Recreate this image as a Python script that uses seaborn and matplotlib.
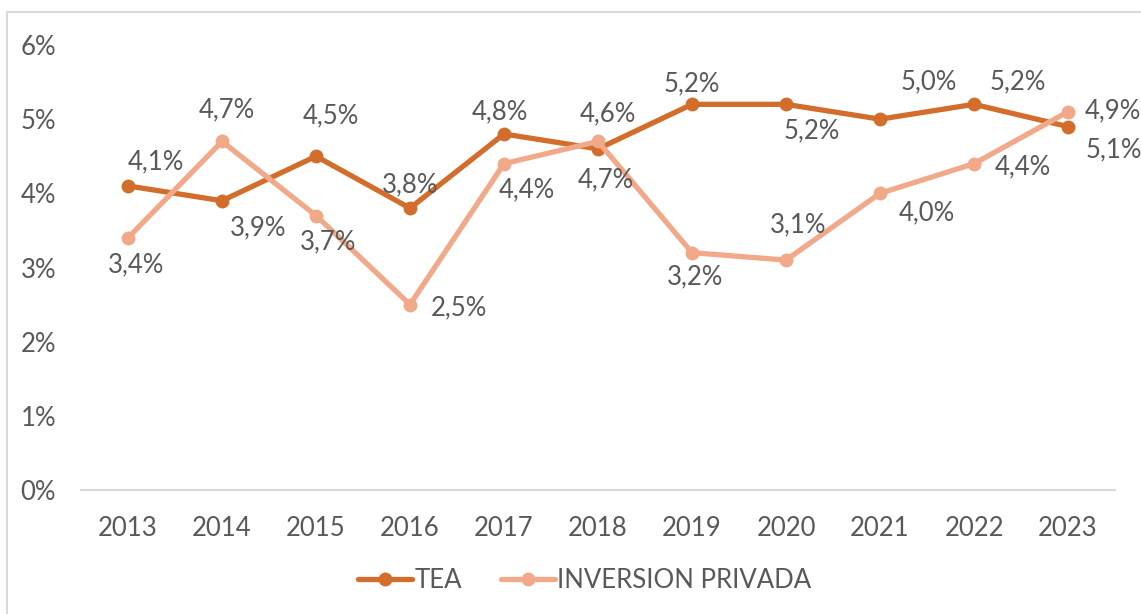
import numpy as np
import pandas as pd
import seaborn as sns
import matplotlib.pyplot as plt
from matplotlib.lines import Line2D

sns.set_theme(style='white')
plt.rcParams['font.family'] = ['Lato', 'DejaVu Sans']

years = [2013, 2014, 2015, 2016, 2017, 2018, 2019, 2020, 2021, 2022, 2023]
tea = [4.1, 3.9, 4.5, 3.8, 4.8, 4.6, 5.2, 5.2, 5.0, 5.2, 4.9]
inversion = [3.4, 4.7, 3.7, 2.5, 4.4, 4.7, 3.2, 3.1, 4.0, 4.4, 5.1]
series_names = ['TEA', 'INVERSION PRIVADA']
y_ticks = [0, 1, 2, 3, 4, 5, 6]

# label offsets in pixels, as placed in the original chart
tea_offsets = [(28, 24), (36, -27), (15, 40), (0, 23), (-4, 22), (10, 35),
               (0, 21), (26, -26), (49, 37), (44, 23), (45, 16)]
inv_offsets = [(8, -27), (5, 32), (12, -26), (49, -3), (23, -26), (8, -38),
               (3, -24), (12, 35), (47, -19), (49, -3), (46, -38)]

colors = {'TEA': '#D36D2B', 'INVERSION PRIVADA': '#F1A98A'}
text_color = '#595959'
fs = 18.5

df = pd.DataFrame({'year': years * 2,
                   'value': tea + inversion,
                   'serie': [series_names[0]] * len(years) + [series_names[1]] * len(years)})

fig = plt.figure(figsize=(11.41, 6.14), dpi=100)
ax = fig.add_axes([81 / 1141, 124 / 614, 1034 / 1141, 445 / 614])

sns.lineplot(data=df, x='year', y='value', hue='serie', palette=colors,
             hue_order=series_names, marker='o', markersize=10, markeredgewidth=0,
             linewidth=3.8, ax=ax, legend=False)

ax.set_xlim(years[0] - 0.5, years[-1] + 0.5)
ax.set_ylim(0, 6)
ax.set_xticks(years)
ax.set_xticklabels([str(y) for y in years])
ax.set_yticks(y_ticks)
ax.set_yticklabels(['{}%'.format(t) for t in y_ticks])
ax.tick_params(axis='x', length=0, pad=19, labelsize=fs, labelcolor=text_color)
ax.tick_params(axis='y', length=0, pad=18, labelsize=fs, labelcolor=text_color)
ax.set_xlabel('')
ax.set_ylabel('')
for side in ['top', 'right', 'left']:
    ax.spines[side].set_visible(False)
ax.spines['bottom'].set_color('#D9D9D9')
ax.spines['bottom'].set_linewidth(1.5)
ax.set_facecolor('none')

def fmt(v):
    return '{:.1f}%'.format(v).replace('.', ',')

for vals, offs in [(tea, tea_offsets), (inversion, inv_offsets)]:
    for yr, v, (dx, dy) in zip(years, vals, offs):
        ax.annotate(fmt(v), (yr, v), xytext=(dx, dy), textcoords='offset pixels',
                    ha='center', va='center', fontsize=fs, color=text_color)

handles = [Line2D([], [], color=colors[n], linewidth=3.8, marker='o', markersize=10,
                  markeredgewidth=0, solid_capstyle='round') for n in series_names]
fig.legend(handles, series_names, loc='center', bbox_to_anchor=(585 / 1141, 1 - 580 / 614),
           ncol=2, frameon=False, fontsize=fs, labelcolor=text_color,
           handlelength=2.1, handletextpad=0.1, columnspacing=1.5)

# light frame as in the cropped original
fig.add_artist(Line2D([7 / 1141, 7 / 1141], [0, 1 - 12 / 614], color='#D9D9D9', linewidth=1.5))
fig.add_artist(Line2D([7 / 1141, 1], [1 - 12 / 614, 1 - 12 / 614], color='#D9D9D9', linewidth=1.5))

fig.savefig('out.png', dpi=100)
